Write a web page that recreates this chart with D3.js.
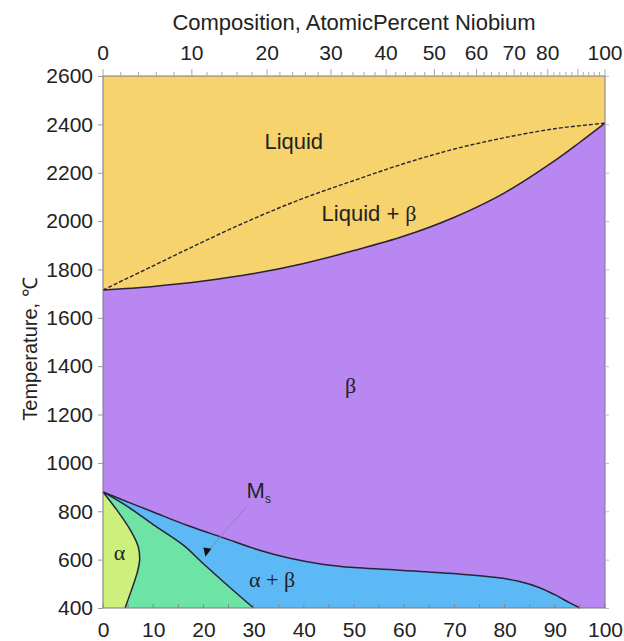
<!DOCTYPE html>
<html>
<head>
<meta charset="utf-8">
<script src="https://cdn.jsdelivr.net/npm/d3@7"></script>
<style>
  html, body { margin: 0; padding: 0; background: #fff; }
  svg { display: block; }
  text { font-family: "Liberation Sans", Arial, Helvetica, sans-serif; fill: #222; }
</style>
</head>
<body>
<svg id="chart" width="624" height="641"></svg>
<script>
// ---- data (weight percent Nb vs temperature, deg C) ----
const wtTicks = [0, 10, 20, 30, 40, 50, 60, 70, 80, 90, 100];
const tempTicks = [400, 600, 800, 1000, 1200, 1400, 1600, 1800, 2000, 2200, 2400, 2600];
const atPercent = [0, 10, 20, 30, 40, 50, 60, 70, 80, 90, 100];
const atPercentAsWt = [0, 17.7, 32.7, 45.4, 56.4, 66.0, 74.4, 81.9, 88.6, 94.6, 100];
const atLabels = [0, 10, 20, 30, 40, 50, 60, 70, 80, 100];

const liquidusWt = [0, 10, 20, 30, 40, 50, 60, 70, 80, 90, 100];
const liquidusT  = [1715, 1815, 1915, 2010, 2095, 2168, 2238, 2298, 2345, 2382, 2405];

const solidusWt = [0, 10, 20, 30, 40, 50, 60, 70, 80, 90, 95, 100];
const solidusT  = [1715, 1730, 1752, 1783, 1825, 1878, 1938, 2016, 2117, 2250, 2326, 2405];

const transusWt = [0, 5, 10, 17, 24, 31, 37, 44, 50, 57, 68, 78, 83, 87, 90, 93, 95];
const transusT  = [880, 838, 797, 740, 690, 640, 607, 580, 567, 559, 545, 527, 510, 484, 455, 421, 400];

const alphaWt = [0, 2.7, 5.4, 7.0, 7.3, 6.8, 5.7, 4.4];
const alphaT  = [880, 807, 724, 655, 600, 545, 476, 400];

const msWt = [0, 5, 10, 16, 20, 25, 30];
const msT  = [880, 818, 745, 660, 583, 490, 400];

(function () {
const svg = d3.select("#chart");
const x = d3.scaleLinear().domain([0, 100]).range([103, 605]);
const y = d3.scaleLinear().domain([400, 2600]).range([608, 76]);
const atScale = d3.scaleLinear().domain(atPercent).range(atPercentAsWt.map(x));

const zip = (a, b) => a.map((v, i) => [v, b[i]]);
const liquidus = zip(liquidusWt, liquidusT);
const solidus = zip(solidusWt, solidusT);
const transus = zip(transusWt, transusT);
const alphaB = zip(alphaWt, alphaT);
const ms = zip(msWt, msT);

const cLiquid = "#f6d36d", cBeta = "#b987f1", cAB = "#5cb9f6", cMart = "#6de3a6", cAlpha = "#cdef7c";
const lineCol = "#2a2238";

const curve = d3.curveCatmullRom.alpha(0.5);
const lineGen = d3.line().x(d => x(d[0])).y(d => y(d[1])).curve(curve);
const areaDown = d3.area().x(d => x(d[0])).y1(d => y(d[1])).y0(y(400)).curve(curve);

const plot = svg.append("g");
plot.append("rect").attr("x", x(0)).attr("y", y(2600))
  .attr("width", x(100) - x(0)).attr("height", y(400) - y(2600)).attr("fill", cLiquid);
plot.append("path").attr("d", areaDown(solidus)).attr("fill", cBeta);
plot.append("path").attr("d", areaDown(transus)).attr("fill", cAB);
plot.append("path").attr("d", areaDown(ms)).attr("fill", cMart);
const alphaArea = d3.area().y(d => y(d[1])).x0(x(0)).x1(d => x(d[0])).curve(curve);
plot.append("path").attr("d", alphaArea(alphaB)).attr("fill", cAlpha);

plot.append("path").attr("d", lineGen(liquidus)).attr("fill", "none")
  .attr("stroke", lineCol).attr("stroke-width", 1.4).attr("stroke-dasharray", "4,2");
[solidus, transus, alphaB, ms].forEach(pts => {
  plot.append("path").attr("d", lineGen(pts)).attr("fill", "none")
    .attr("stroke", lineCol).attr("stroke-width", 1.5);
});

svg.append("rect").attr("x", x(0)).attr("y", y(2600))
  .attr("width", x(100) - x(0)).attr("height", y(400) - y(2600))
  .attr("fill", "none").attr("stroke", "#7d7788").attr("stroke-width", 1);

// ---- axes ----
const fs = "21px";
const axL = svg.append("g").attr("transform", `translate(${x(0)},0)`)
  .call(d3.axisLeft(y).tickValues(tempTicks).tickSize(5).tickPadding(5).tickFormat(d3.format("d")));
axL.select(".domain").remove();
axL.selectAll(".tick line").attr("stroke", "#999");
axL.selectAll("text").style("font-size", fs).attr("fill", "#222");

const axR = svg.append("g").attr("transform", `translate(${x(100)},0)`)
  .call(d3.axisRight(y).tickValues(tempTicks).tickSize(4).tickFormat(""));
axR.select(".domain").remove();
axR.selectAll(".tick line").attr("stroke", "#bbb");

const axB = svg.append("g").attr("transform", `translate(0,${y(400)})`)
  .call(d3.axisBottom(x).tickValues(wtTicks).tickSize(0).tickPadding(14));
axB.select(".domain").remove();
axB.selectAll("text").style("font-size", fs).attr("fill", "#222");
axB.selectAll(".minor").data(d3.range(0, 101, 5)).enter().append("line")
  .attr("x1", d => x(d)).attr("x2", d => x(d)).attr("y1", 0).attr("y2", -4)
  .attr("stroke", "#888");

const axT = svg.append("g").attr("transform", `translate(0,${y(2600)})`);
axT.selectAll(".minor").data(d3.range(0, 101, 2)).enter().append("line")
  .attr("x1", d => atScale(d)).attr("x2", d => atScale(d))
  .attr("y1", 0).attr("y2", d => d % 10 === 0 ? -7 : -4)
  .attr("stroke", "#aaa");
axT.selectAll(".lab").data(atLabels).enter().append("text")
  .attr("x", d => atScale(d)).attr("y", -16).attr("text-anchor", "middle")
  .style("font-size", fs).text(d => d);

svg.append("text").attr("x", 354).attr("y", 30).attr("text-anchor", "middle")
  .style("font-size", "22px").text("Composition, AtomicPercent Niobium");
svg.append("text").attr("transform", "translate(37,349) rotate(-90)")
  .attr("text-anchor", "middle").style("font-size", "20px").text("Temperature, \u2103");

const rfs = "22px";
const lab = (t, px, py, serif) => svg.append("text").attr("x", px).attr("y", py)
  .attr("text-anchor", "middle").style("font-size", rfs)
  .style("font-family", serif ? "'Liberation Serif', 'Times New Roman', serif" : null).text(t);
lab("Liquid", x(38), y(2300));
const lb = svg.append("text").attr("x", x(53)).attr("y", y(2000)).attr("text-anchor", "middle").style("font-size", rfs);
lb.append("tspan").text("Liquid + ");
lb.append("tspan").style("font-family", "'Liberation Serif', serif").text("\u03b2");
lab("\u03b2", x(49.3), y(1290), true);
lab("\u03b1", x(3.3), y(600), true);
lab("\u03b1 + \u03b2", x(33.7), y(487), true);

const msLab = svg.append("text").attr("x", x(28.6)).attr("y", y(855)).style("font-size", rfs);
msLab.append("tspan").text("M");
msLab.append("tspan").attr("dy", 5).style("font-size", "12px").text("s");
svg.append("line").attr("x1", x(28.6)).attr("y1", y(820)).attr("x2", x(21.3)).attr("y2", y(645))
  .attr("stroke", "#9a7fb8").attr("stroke-width", 1);
const tip = [x(20.4), y(612)];
svg.append("path")
  .attr("d", `M${tip[0]},${tip[1]} L${x(20.6) - 3},${y(650)} L${x(21.6)},${y(645)} Z`)
  .attr("fill", "#111");
})();
</script>
</body>
</html>
